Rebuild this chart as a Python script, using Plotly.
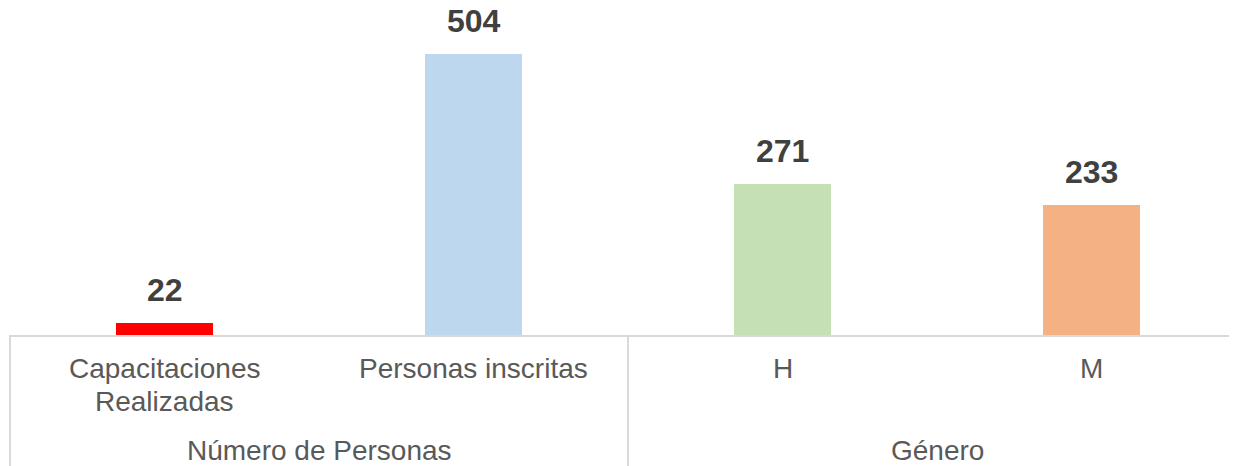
import plotly.graph_objects as go

categories = ["Capacitaciones Realizadas", "Personas inscritas", "H", "M"]
label_lines = [["Capacitaciones", "Realizadas"], ["Personas inscritas"], ["H"], ["M"]]
values = [22, 504, 271, 233]
colors = ["#FF0000", "#BDD7EE", "#C5E0B4", "#F4B183"]
groups = ["Número de Personas", "Género"]
group_members = [[0, 1], [2, 3]]

# page body has an 8px margin; figure coordinates are screen - 8
W, H = 1237, 466
ml, mt, mb = 2, 0, 139
plot_h = H - mt - mb
cat_w = 309

fig = go.Figure()
fig.add_trace(go.Bar(
    x=list(range(len(categories))), y=values,
    marker=dict(color=colors, line=dict(width=0)),
    width=97 / cat_w, hoverinfo="skip", showlegend=False,
))

FONT = "Arial, Liberation Sans, sans-serif"
ann = []
for i, v in enumerate(values):
    ann.append(dict(x=i, y=v, xref="x", yref="y", text=f"<b>{v}</b>", showarrow=False,
                    yanchor="bottom", yshift=13,
                    font=dict(family=FONT, size=32, color="#404040")))
line_px = [33, 66]
for i, lines in enumerate(label_lines):
    for j, t in enumerate(lines):
        ann.append(dict(x=i, y=-line_px[j] / plot_h, xref="x", yref="paper", text=t,
                        showarrow=False, yanchor="middle",
                        font=dict(family=FONT, size=28, color="#595959")))
for g, members in zip(groups, group_members):
    ann.append(dict(x=sum(members) / len(members), y=-115 / plot_h, xref="x", yref="paper",
                    text=g, showarrow=False, yanchor="middle",
                    font=dict(family=FONT, size=28, color="#595959")))

shapes = [
    dict(type="line", xref="paper", yref="paper", x0=0, x1=0, y0=0, y1=-mb / plot_h,
         line=dict(color="#D9D9D9", width=2)),
    dict(type="line", xref="x", yref="paper", x0=1.5, x1=1.5, y0=0, y1=-mb / plot_h,
         line=dict(color="#D9D9D9", width=2)),
]

fig.update_layout(
    width=W, height=H,
    margin=dict(l=ml, r=0, t=mt, b=mb, pad=0),
    paper_bgcolor="white", plot_bgcolor="white",
    xaxis=dict(range=[-0.5, -0.5 + (W - ml) / cat_w], showticklabels=False, showgrid=False,
               zeroline=False, showline=True, linecolor="#D9D9D9", linewidth=2, ticks=""),
    yaxis=dict(range=[0, plot_h * 504 / 281], visible=False, showgrid=False, zeroline=False),
    annotations=ann, shapes=shapes,
    bargap=0,
)

fig.write_html("out.html")
